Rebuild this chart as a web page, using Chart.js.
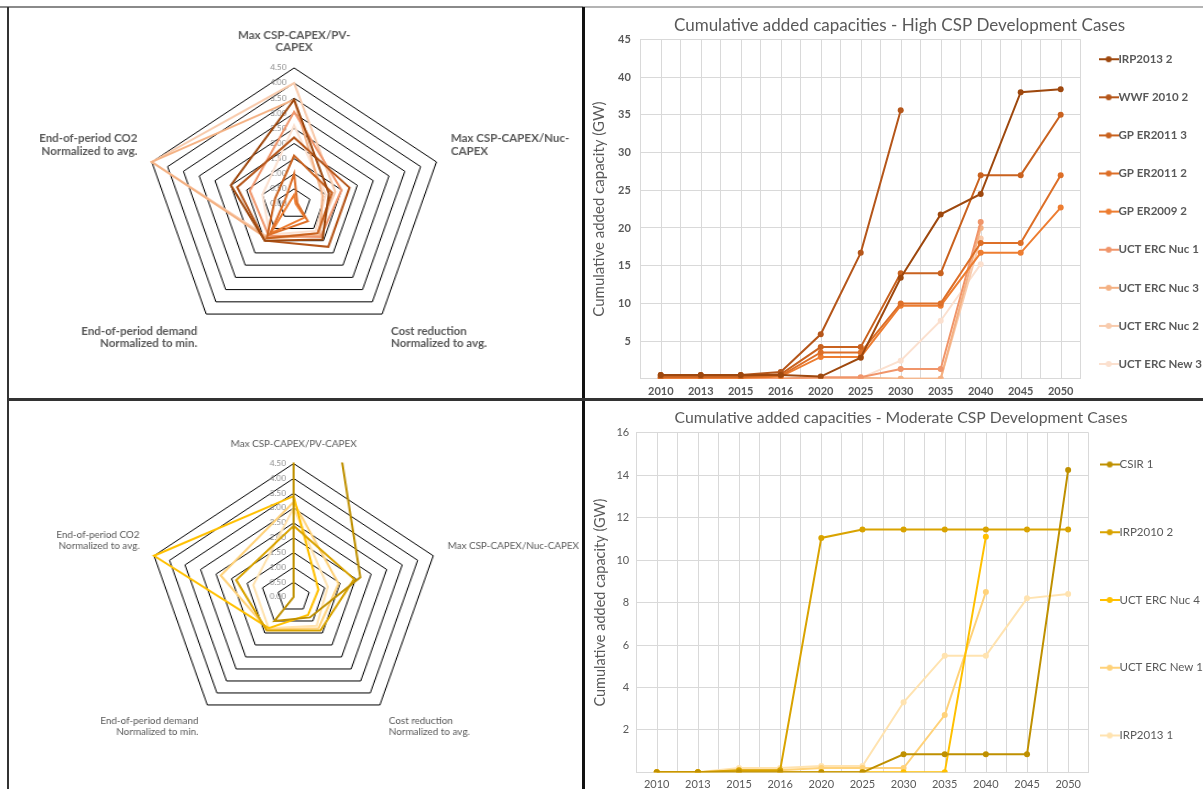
<!DOCTYPE html>
<html>
<head>
<meta charset="utf-8">
<script src="https://cdn.jsdelivr.net/npm/chart.js"></script>
<style>
  html, body { margin: 0; padding: 0; background: #fff; }
  #page { position: relative; width: 1203px; height: 789px; overflow: hidden; background: #fff; }
  .box { position: absolute; }
  .stretch { transform: scaleX(1.1); transform-origin: 0 0; }
  .rule { position: absolute; z-index: 5; }
</style>
</head>
<body>
<div id="page">
  <div class="box stretch" style="left:18px;top:9px;width:522px;height:389px"><canvas id="radarHigh"></canvas></div>
  <div class="box" style="left:585px;top:9px;width:627px;height:395px"><canvas id="lineHigh"></canvas></div>
  <div class="box stretch" style="left:1px;top:402px;width:540px;height:390px"><canvas id="radarMod"></canvas></div>
  <div class="box" style="left:585px;top:402px;width:628px;height:400px"><canvas id="lineMod"></canvas></div>

  <div class="rule" style="left:0;top:6px;width:583px;height:2px;background:#8a8a8a"></div>
  <div class="rule" style="left:583px;top:6px;width:620px;height:2px;background:#b4b4b4"></div>
  <div class="rule" style="left:7px;top:7px;width:2px;height:782px;background:#333"></div>
  <div class="rule" style="left:582px;top:7px;width:3px;height:782px;background:#111"></div>
  <div class="rule" style="left:7px;top:398px;width:1196px;height:3px;background:#333"></div>
</div>

<script>
// categories
const years = ['2010', '2013', '2015', '2016', '2020', '2025', '2030', '2035', '2040', '2045', '2050'];

// high CSP development cases (GW)
const irp2013_2  = [0.5, 0.5, 0.5, 0.5, 0.3, 2.8, 13.4, 21.8, 24.5, 38.0, 38.4];
const wwf2010_2  = [0.5, 0.5, 0.5, 0.9, 5.9, 16.7, 35.6, null, null, null, null];
const gpEr2011_3 = [0.3, 0.3, 0.3, 0.6, 4.2, 4.2, 14.0, 14.0, 27.0, 27.0, 35.0];
const gpEr2011_2 = [0.2, 0.2, 0.2, 0.4, 3.5, 3.5, 10.0, 10.0, 18.0, 18.0, 27.0];
const gpEr2009_2 = [0.1, 0.1, 0.1, 0.3, 2.9, 2.9, 9.7, 9.7, 16.7, 16.7, 22.7];
const uctNuc1    = [0, 0, 0, 0, 0.2, 0.2, 1.3, 1.3, 20.8, null, null];
const uctNuc3    = [0, 0, 0, 0, 0.1, 0.1, 0, 0, 20.0, null, null];
const uctNuc2    = [0, 0, 0, 0, 0.1, 0.1, 0, 0, 18.6, null, null];
const uctNew3    = [0, 0, 0, 0, 0.1, 0.1, 2.4, 7.7, 15.2, null, null];

// moderate CSP development cases (GW)
const csir1      = [0, 0, 0, 0, 0, 0, 0.85, 0.85, 0.85, 0.85, 14.25];
const irp2010_2  = [0, 0, 0.1, 0.1, 11.05, 11.45, 11.45, 11.45, 11.45, 11.45, 11.45];
const uctNuc4    = [0, 0, 0, 0, 0, 0, 0, 0, 11.1, null, null];
const uctNew1    = [0, 0, 0.1, 0.1, 0.2, 0.2, 0.2, 2.7, 8.5, null, null];
const irp2013_1  = [0, 0, 0.2, 0.2, 0.3, 0.3, 3.3, 5.5, 5.5, 8.2, 8.4];

// radar axes
const axesHigh = [['Max CSP-CAPEX/PV-', 'CAPEX'], ['Max CSP-CAPEX/Nuc-', 'CAPEX'],
  ['Cost reduction', 'Normalized to avg.'], ['End-of-period demand', 'Normalized to min.'],
  ['End-of-period CO2', 'Normalized to avg.']];
const axesMod = ['Max CSP-CAPEX/PV-CAPEX', 'Max CSP-CAPEX/Nuc-CAPEX',
  ['Cost reduction', 'Normalized to avg.'], ['End-of-period demand', 'Normalized to min.'],
  ['End-of-period CO2', 'Normalized to avg.']];

// radar values: PV ratio, Nuc ratio, cost, demand, CO2
const rIrp2013_2  = [3.45, 1.1, 1.45, 1.5, 2.0];
const rWwf2010_2  = [2.2, 1.75, 1.75, 1.5, 1.8];
const rGpEr2011_3 = [1.6, 1.2, 1.2, 1.4, 0.6];
const rGpEr2011_2 = [1.0, 0.1, 0.7, 1.25, 0.3];
const rGpEr2009_2 = [0.3, 0.05, 0.55, 1.2, 0.15];
const rUctNuc1    = [3.05, 1.5, 1.35, 1.3, 1.4];
const rUctNuc3    = [3.45, 0.9, 1.3, 1.4, 4.5];
const rUctNuc2    = [4.0, 1.3, 1.2, 1.35, 4.5];
const rUctNew3    = [2.6, 1.0, 1.1, 1.25, 1.0];

const rCsir1      = [14.9, 2.15, 0.85, 1.0, 0];
const rIrp2010_2  = [2.4, 1.95, 1.4, 1.4, 1.85];
const rUctNuc4    = [3.4, 0.8, 0.75, 1.3, 4.5];
const rUctNew1    = [3.2, 1.45, 1.3, 1.35, 2.35];
const rIrp2013_1  = [3.0, 1.1, 1.2, 1.3, 1.3];

const FONT = 'Lato, "Open Sans", sans-serif';
const GREY = '#595959';
const GRID = '#d9d9d9';

const highSeries = [
  { name: 'IRP2013 2', color: '#9e480e', line: irp2013_2, radar: rIrp2013_2 },
  { name: 'WWF 2010 2', color: '#b5561a', line: wwf2010_2, radar: rWwf2010_2 },
  { name: 'GP ER2011 3', color: '#c9621f', line: gpEr2011_3, radar: rGpEr2011_3 },
  { name: 'GP ER2011 2', color: '#dd6f28', line: gpEr2011_2, radar: rGpEr2011_2 },
  { name: 'GP ER2009 2', color: '#ed7d31', line: gpEr2009_2, radar: rGpEr2009_2 },
  { name: 'UCT ERC Nuc 1', color: '#f0956a', line: uctNuc1, radar: rUctNuc1 },
  { name: 'UCT ERC Nuc 3', color: '#f4b183', line: uctNuc3, radar: rUctNuc3 },
  { name: 'UCT ERC Nuc 2', color: '#f8cbad', line: uctNuc2, radar: rUctNuc2 },
  { name: 'UCT ERC New 3', color: '#fbe0cf', line: uctNew3, radar: rUctNew3 }
];
const modSeries = [
  { name: 'CSIR 1', color: '#bf9000', line: csir1, radar: rCsir1 },
  { name: 'IRP2010 2', color: '#d9a300', line: irp2010_2, radar: rIrp2010_2 },
  { name: 'UCT ERC Nuc 4', color: '#ffc000', line: uctNuc4, radar: rUctNuc4 },
  { name: 'UCT ERC New 1', color: '#ffd27a', line: uctNew1, radar: rUctNew1 },
  { name: 'IRP2013 1', color: '#ffe3b0', line: irp2013_1, radar: rIrp2013_1 }
];

// legend symbol: short line with a dot
function mark(color) {
  const c = document.createElement('canvas');
  c.width = 20; c.height = 8;
  const g = c.getContext('2d');
  g.strokeStyle = color; g.lineWidth = 2;
  g.beginPath(); g.moveTo(0, 4); g.lineTo(20, 4); g.stroke();
  g.fillStyle = color;
  g.beginPath(); g.arc(10, 4, 3, 0, Math.PI * 2); g.fill();
  return c;
}

// extra vertical gridlines at the category centres
const midGrid = {
  id: 'midGrid',
  beforeDatasetsDraw(chart) {
    const x = chart.scales.x, a = chart.chartArea, ctx = chart.ctx;
    ctx.save();
    ctx.strokeStyle = GRID; ctx.lineWidth = 1;
    x.ticks.forEach((t, i) => {
      const px = Math.round(x.getPixelForValue(i)) + 0.5;
      ctx.beginPath(); ctx.moveTo(px, a.top); ctx.lineTo(px, a.bottom); ctx.stroke();
    });
    ctx.restore();
  }
};

// cut the radar lines at the top of the outer ring (like the plot area)
const clipToRing = {
  id: 'clipToRing',
  beforeDatasetDraw(chart) {
    const r = chart.scales.r;
    chart.ctx.save();
    chart.ctx.beginPath();
    chart.ctx.rect(0, r.yCenter - r.drawingArea - 1, chart.width, chart.height);
    chart.ctx.clip();
  },
  afterDatasetDraw(chart) { chart.ctx.restore(); }
};

function radar(id, labels, series, bold, labelSize, pad) {
  new Chart(document.getElementById(id), {
    type: 'radar',
    data: {
      labels: labels,
      datasets: series.map(s => ({
        label: s.name, data: s.radar, borderColor: s.color, backgroundColor: 'rgba(0,0,0,0)',
        borderWidth: 2, pointRadius: 0, fill: false
      }))
    },
    options: {
      responsive: true, maintainAspectRatio: false, animation: false,
      layout: { padding: pad },
      plugins: { legend: { display: false }, tooltip: { enabled: false } },
      scales: {
        r: {
          min: -1e-9, max: 4.5,
          ticks: {
            stepSize: 0.5, showLabelBackdrop: false, color: '#8c8c8c',
            font: { family: FONT, size: 7.5 },
            callback: v => Math.abs(v).toFixed(2) + '               '
          },
          grid: { color: '#000', lineWidth: 1 },
          angleLines: { display: false },
          pointLabels: {
            color: GREY, padding: 8,
            font: { family: FONT, size: labelSize, weight: bold ? 'bold' : 'normal' }
          }
        }
      }
    },
    plugins: [clipToRing]
  });
}

function line(id, cfg) {
  const weight = cfg.bold ? 'bold' : 'normal';
  const marks = cfg.series.map(s => mark(s.color));
  new Chart(document.getElementById(id), {
    type: 'line',
    data: {
      labels: years,
      datasets: cfg.series.map(s => ({
        label: s.name, data: s.line, borderColor: s.color, backgroundColor: s.color,
        borderWidth: 2, pointRadius: 3, pointBorderWidth: 0, pointStyle: 'circle', tension: 0
      }))
    },
    options: {
      responsive: true, maintainAspectRatio: false, animation: false,
      layout: { padding: cfg.pad },
      plugins: {
        tooltip: { enabled: false },
        title: {
          display: true, text: cfg.title, color: GREY,
          font: { family: FONT, size: cfg.titleSize, weight: 'normal' }, padding: cfg.titlePad
        },
        legend: {
          position: 'right',
          align: cfg.legendAlign,
          title: cfg.legendTitle,
          labels: {
            usePointStyle: true, pointStyleWidth: 8, padding: cfg.legendPad, color: GREY,
            font: { family: FONT, size: 11.5, weight: weight, lineHeight: cfg.legendLine },
            generateLabels: chart => chart.data.datasets.map((ds, i) => ({
              text: [ds.label], fillStyle: ds.borderColor, strokeStyle: ds.borderColor,
              lineWidth: 0, pointStyle: marks[i], datasetIndex: i, hidden: false, fontColor: GREY
            }))
          }
        }
      },
      scales: {
        x: {
          offset: true,
          grid: { color: GRID, offset: true, drawTicks: false },
          border: { color: GRID },
          ticks: { color: GREY, padding: 6, maxRotation: 0, font: { family: FONT, size: 11, weight: weight } }
        },
        y: {
          min: 0, max: cfg.max,
          grid: { color: GRID, drawTicks: false },
          border: { color: GRID },
          ticks: {
            stepSize: cfg.step, color: GREY, padding: cfg.tickPad,
            font: { family: FONT, size: 11, weight: weight },
            callback: v => (v === 0 ? '' : v)
          },
          title: {
            display: true, text: 'Cumulative added capacity (GW)', color: GREY,
            font: { family: FONT, size: cfg.axisTitleSize }, padding: { top: 3, bottom: 0 }
          }
        }
      }
    },
    plugins: [midGrid]
  });
}

radar('radarHigh', axesHigh, highSeries, true, 10.5, { top: 4, bottom: 35, left: 0, right: 0 });
radar('radarMod', axesMod, modSeries, false, 9, { top: 28, bottom: 46, left: 0, right: 0 });

line('lineHigh', {
  title: 'Cumulative added capacities - High CSP Development Cases', titleSize: 17,
  titlePad: { top: 4, bottom: 4 }, series: highSeries, max: 45, step: 5, bold: true,
  legendPad: 24, legendLine: '14.1px', legendAlign: 'center',
  legendTitle: { display: true, text: ' ', padding: 0, font: { size: 9 } },
  tickPad: 10, axisTitleSize: 15, pad: { top: 2, left: 2, right: 0, bottom: 0 }
});
line('lineMod', {
  title: 'Cumulative added capacities - Moderate CSP Development Cases', titleSize: 15.75,
  titlePad: { top: 2, bottom: 6 }, series: modSeries, max: 16, step: 2, bold: false,
  legendPad: 17, legendLine: '50.75px', legendAlign: 'end',
  legendTitle: { display: false },
  tickPad: 7, axisTitleSize: 14.5, pad: { top: 4, left: 4, right: 0, bottom: 4.5 }
});
</script>
</body>
</html>
